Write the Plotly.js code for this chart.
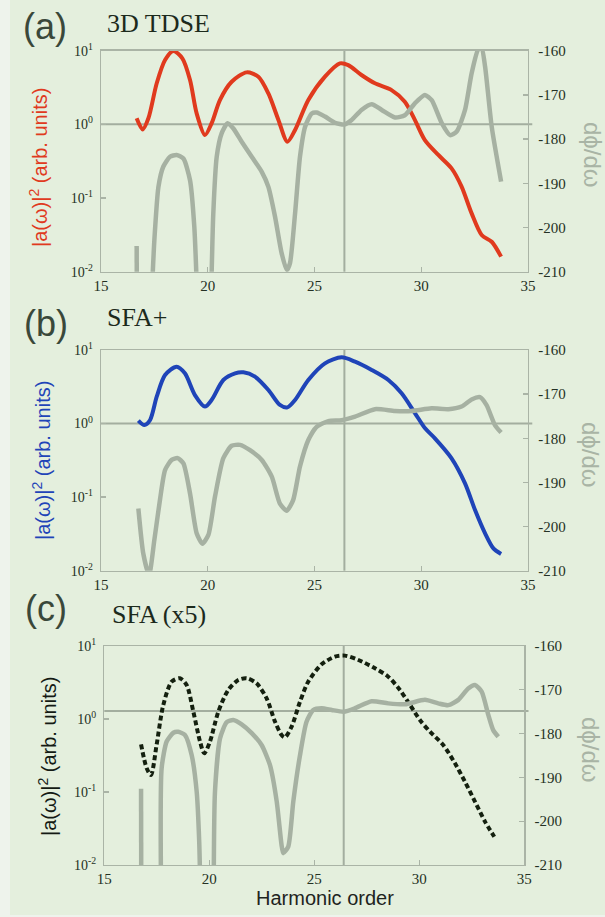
<!DOCTYPE html>
<html><head><meta charset="utf-8">
<script src="https://cdn.plot.ly/plotly-3.0.1.min.js"></script>
<style>html,body{margin:0;padding:0;background:#eef3ec;} #chart{width:605px;height:917px;}</style>
</head><body><div id="chart"></div>
<script>
// ---------- data ----------
// (a) 3D TDSE
const tdseX   = [16.67,16.95,17.22,17.61,18.0,18.39,18.81,19.17,19.48,19.87,20.18,20.57,21.12,21.82,22.37,22.84,23.31,23.73,24.09,24.71,25.49,26.19,26.58,27.2,27.83,28.61,29.23,29.7,30.17,30.8,31.42,31.89,32.36,32.83,33.3,33.74];
const tdseAmp = [1.21,0.855,1.21,3.61,7.46,9.9,7.87,4.0,1.41,0.716,1.03,2.14,3.79,5.08,4.44,2.63,1.15,0.582,0.838,2.14,4.44,6.73,6.38,4.68,3.61,2.92,2.03,1.15,0.612,0.384,0.253,0.143,0.0619,0.0315,0.0255,0.016];
const tdsePhaseX = [16.67,16.68,null,17.38,17.5,17.69,17.92,18.23,18.54,18.86,19.17,19.37,19.5,null,20.16,20.26,20.42,20.65,20.93,21.2,21.59,22.06,22.53,22.84,23.15,23.46,23.7,23.85,24.09,24.32,24.56,24.87,25.1,25.49,25.96,26.4,26.74,27.2,27.68,28.15,28.77,29.23,29.7,30.17,30.49,30.96,31.35,31.66,32.05,32.36,32.67,32.83,32.99,33.3,33.74];
const tdsePhase  = [-204.2,-215,null,-215,-202.8,-190.8,-186.2,-184,-183.6,-184.4,-189.3,-199.8,-215,null,-215,-196.8,-184,-178.7,-176.4,-177.6,-180.6,-184,-187.4,-190.8,-197.5,-205.8,-209.6,-208.1,-196.8,-184,-177.2,-174.2,-174,-174.9,-176.3,-176.7,-175.7,-173.4,-172.1,-173.4,-175.1,-174.6,-171.9,-170,-171.2,-176.4,-179.1,-178.3,-173.4,-165.1,-159.7,-159.5,-163.6,-177.2,-189.6];

// (b) SFA+
const sfaPlusX   = [16.75,17.03,17.3,17.61,18.0,18.54,18.93,19.4,19.87,20.18,20.73,21.28,21.67,22.21,22.84,23.38,23.73,24.09,24.71,25.49,26.27,26.9,27.68,28.46,29.08,29.71,30.18,30.64,31.42,32.05,32.52,32.99,33.38,33.74];
const sfaPlusAmp = [1.10,0.955,1.12,2.32,4.57,5.93,4.82,2.44,1.70,2.09,3.91,4.82,4.97,4.34,2.86,1.79,1.66,2.09,3.91,6.59,7.94,6.93,5.35,3.91,2.58,1.38,0.861,0.631,0.337,0.154,0.0668,0.0322,0.0201,0.0169];
const sfaPlusPhaseX = [16.75,16.98,17.25,17.5,17.76,18.0,18.31,18.59,18.86,19.17,19.48,19.75,20.03,20.34,20.73,21.12,21.51,21.98,22.53,23.0,23.38,23.7,24.0,24.32,24.71,25.1,25.65,26.27,26.9,27.83,28.77,29.55,30.49,31.27,31.89,32.36,32.75,33.06,33.45,33.74];
const sfaPlusPhase  = [-195.9,-206.1,-211,-203,-194,-187.2,-184.9,-184.5,-185.7,-192.5,-201.5,-203.9,-201.9,-193.2,-184.5,-181.7,-181.5,-182.7,-184.9,-188.7,-194.8,-196.4,-194,-186.4,-180.4,-177.4,-176.1,-175.9,-175.1,-173.4,-173.8,-173.8,-173.2,-173.4,-172.8,-171.2,-170.7,-172.5,-177,-178.7];

// (c) SFA (x5)
const sfaX   = [16.75,17.02,17.22,17.49,17.81,18.21,18.6,18.92,19.24,19.56,19.76,20.03,20.43,20.9,21.38,21.78,22.25,22.73,23.13,23.44,23.6,23.92,24.32,24.71,25.35,25.98,26.46,27.1,27.89,28.52,29.08,29.56,30.03,30.51,31.14,31.7,32.17,32.65,33.13,33.57];
const sfaAmp = [0.450,0.211,0.171,0.441,1.56,3.24,3.61,2.92,1.26,0.489,0.339,0.489,1.26,2.49,3.42,3.61,3.08,1.92,0.918,0.604,0.561,0.785,1.73,3.24,5.61,7.14,7.38,6.43,4.94,3.80,2.49,1.56,0.968,0.670,0.441,0.247,0.139,0.0738,0.0393,0.0244];
const sfaPhaseX = [16.75,16.76,null,17.7,17.73,17.97,18.29,18.52,18.84,19.16,19.4,19.52,19.57,null,20.21,20.27,20.51,20.83,21.14,21.54,22.02,22.49,22.89,23.21,23.44,23.52,23.76,24.0,24.32,24.63,24.95,25.35,25.83,26.4,26.94,27.73,28.52,29.32,30.27,30.9,31.38,31.86,32.33,32.65,32.97,33.29,33.52,33.76];
const sfaPhase  = [-192.6,-215,null,-215,-187.9,-181.8,-179.8,-179.6,-180.3,-184.9,-193.3,-204.7,-215,null,-215,-193.3,-181.1,-177.4,-176.9,-177.9,-179.9,-182.6,-187.2,-195.5,-205.4,-207.3,-205.8,-195.5,-184.9,-177.3,-174.6,-174.2,-174.6,-175,-174.2,-172.6,-173.1,-173.3,-172.3,-173.1,-173.5,-172.3,-169.7,-168.9,-170.4,-175.8,-179.2,-180.7];

// axis ticks / labels
const ampTickVals = [0.01, 0.1, 1, 10];
const ampTickText = ['10<sup>-2</sup>','10<sup>-1</sup>','10<sup>0</sup>','10<sup>1</sup>'];
const phaseTickVals = [-210, -200, -190, -180, -170, -160];
const phaseTickText = ['-210','-200','-190','-180','-170','-160'];
const harmonicTickVals = [15, 20, 25, 30, 35];
const harmonicTickText = ['15','20','25','30','35'];
const harmonicRange = [15, 35];
const phaseRange = [-210, -160];
const panelLabels = ['(a)','(b)','(c)'];
const panelTitles = ['3D TDSE','SFA+','SFA (x5)'];
const refHarmonic = 26.4;          // vertical guide
const refLevels = [1, 1, 1.29];    // horizontal guide on amplitude axis

// ---------- styling / layout ----------
const W = 605, H = 917;
const px = v => v / W, py = v => 1 - v / H;
const GRAY = '#a6b1a2', FRAME = '#aab4a6', TXT = '#243124';
const SERIF = 'Liberation Serif, Times New Roman, serif';
const SANS = 'Liberation Sans, Arial, sans-serif';

const panels = [
  {ax: tdseX, ay: tdseAmp, phx: tdsePhaseX, phy: tdsePhase, color:'#e03a1e', dash:'solid',
   box:[101,528,50.7,271.7], labelXY:[45,27], titleXY:[105,24], ytXY:[39,168], rtXY:[593,155]},
  {ax: sfaPlusX, ay: sfaPlusAmp, phx: sfaPlusPhaseX, phy: sfaPlusPhase, color:'#1f44b8', dash:'solid',
   box:[101,528,350,570.7], labelXY:[46,323], titleXY:[105,317], ytXY:[42,461], rtXY:[591,455]},
  {ax: sfaX, ay: sfaAmp, phx: sfaPhaseX, phy: sfaPhase, color:'#14200f', dash:'5px,3px',
   box:[104.3,524.3,646,865], labelXY:[46,608], titleXY:[110,614], ytXY:[47,757], rtXY:[591,750]}
];

const data = [];
const layout = {
  width: W, height: H, margin:{l:0,r:0,t:0,b:0},
  paper_bgcolor:'#eef3ec', plot_bgcolor:'rgba(0,0,0,0)',
  showlegend:false, font:{family:SERIF, color:TXT, size:15},
  shapes:[{type:'rect', xref:'paper', yref:'paper', x0:px(10), x1:1.01, y0:py(915), y1:1.01,
           fillcolor:'#e4efdd', line:{width:0}, layer:'below'}],
  annotations:[]
};

panels.forEach((p, i) => {
  const n = i + 1;
  const xa = n === 1 ? 'x' : 'x' + n;
  const yl = 'y' + (2*i + 1 === 1 ? '' : (2*i + 1));
  const yr = 'y' + (2*i + 2);
  const xKey = 'xaxis' + (n === 1 ? '' : n);
  const ylKey = 'yaxis' + (2*i + 1 === 1 ? '' : (2*i + 1));
  const yrKey = 'yaxis' + (2*i + 2);
  const [x0, x1, t, b] = p.box;
  const xd = [px(x0), px(x1)], yd = [py(b), py(t)];

  layout[xKey] = {domain: xd, anchor: yl, range: harmonicRange,
    tickmode:'array', tickvals: harmonicTickVals, ticktext: harmonicTickText,
    ticks:'inside', ticklen:5, tickcolor:FRAME, tickwidth:1.3,
    showline:true, mirror:true, linecolor:FRAME, linewidth:1.3,
    showgrid:false, zeroline:false, tickfont:{family:SERIF, size:15, color:TXT}};
  layout[ylKey] = {domain: yd, anchor: xa, type:'log', range:[-2, 1],
    tickmode:'array', tickvals: ampTickVals, ticktext: ampTickText,
    ticks:'inside', ticklen:5, tickcolor:FRAME, tickwidth:1.3,
    showline:true, mirror:true, linecolor:FRAME, linewidth:1.3,
    showgrid:false, zeroline:false, ticklabelstandoff:4, tickfont:{family:SERIF, size:14, color:TXT}};
  layout[yrKey] = {domain: yd, anchor: xa, overlaying: yl, side:'right', range: phaseRange,
    tickmode:'array', tickvals: phaseTickVals, ticktext: phaseTickText,
    ticks:'inside', ticklen:5, tickcolor:FRAME, tickwidth:1.3,
    showline:true, linecolor:FRAME, linewidth:1.3,
    showgrid:false, zeroline:false, ticklabelstandoff:6, tickfont:{family:SERIF, size:15, color:TXT}};

  // guides
  layout.shapes.push({type:'line', xref: xa + ' domain', yref: yl, x0:0, x1:1.01, y0:refLevels[i], y1:refLevels[i],
    line:{color:'#a3ae9f', width:2}, layer:'below'});
  layout.shapes.push({type:'line', xref: xa, yref: yl + ' domain', x0:refHarmonic, x1:refHarmonic, y0:0, y1:1,
    line:{color:'#a3ae9f', width:2}, layer:'below'});

  data.push({x: p.phx, y: p.phy, xaxis: xa, yaxis: yr, type:'scatter', mode:'lines',
    connectgaps:false, line:{color:GRAY, width:4.5, shape:'spline', smoothing:0.6}, hoverinfo:'skip'});
  data.push({x: p.ax, y: p.ay, xaxis: xa, yaxis: yl, type:'scatter', mode:'lines',
    line:{color:p.color, width:4, dash:p.dash, shape:'spline', smoothing:0.8}, hoverinfo:'skip'});

  const ann = layout.annotations;
  ann.push({xref:'paper', yref:'paper', x:px(p.labelXY[0]), y:py(p.labelXY[1]), xanchor:'center', yanchor:'middle',
    text: panelLabels[i], showarrow:false, font:{family:SANS, size:36, color:'#3a483a'}});
  ann.push({xref:'paper', yref:'paper', x:px(p.titleXY[0]), y:py(p.titleXY[1]), xanchor:'left', yanchor:'middle',
    text: panelTitles[i], showarrow:false, font:{family:SERIF, size:26, color:'#1c2a1c'}});
  ann.push({xref:'paper', yref:'paper', x:px(p.ytXY[0]), y:py(p.ytXY[1]), xanchor:'center', yanchor:'middle',
    text:'|a(ω)|<sup>2</sup> (arb. units)', textangle:-90, showarrow:false,
    font:{family:SANS, size:20, color: i === 2 ? '#141a14' : p.color}});
  ann.push({xref:'paper', yref:'paper', x:px(p.rtXY[0]), y:py(p.rtXY[1]), xanchor:'center', yanchor:'middle',
    text:'dϕ/dω', textangle:90, showarrow:false, font:{family:SANS, size:24, color:'#a9b4a5'}});
});

layout.annotations.push({xref:'paper', yref:'paper', x:px(325), y:py(898), xanchor:'center', yanchor:'middle',
  text:'Harmonic order', showarrow:false, font:{family:SANS, size:20, color:'#1e241e'}});

Plotly.newPlot('chart', data, layout, {displayModeBar:false, staticPlot:true});
</script>
</body></html>
